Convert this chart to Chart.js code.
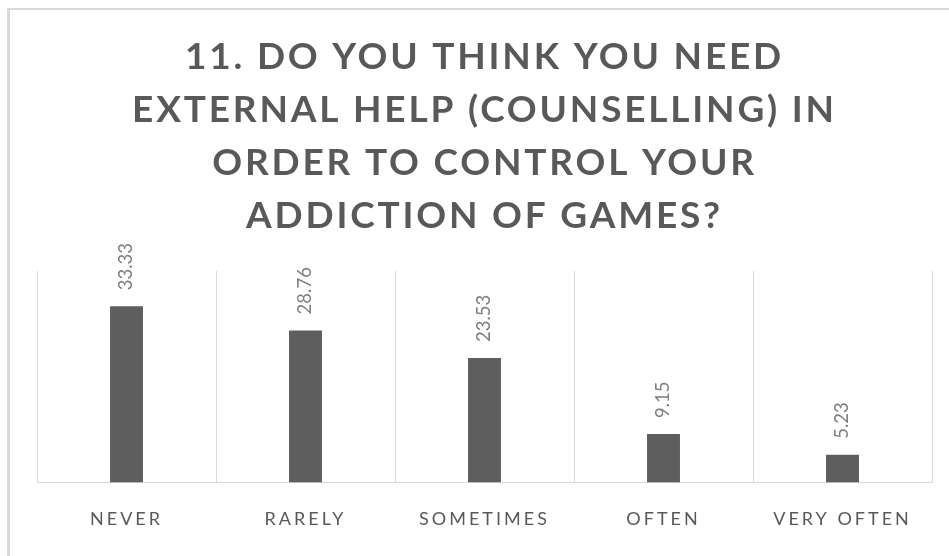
<!DOCTYPE html>
<html>
<head>
<meta charset="utf-8">
<title>Counselling survey</title>
<script src="https://cdn.jsdelivr.net/npm/chart.js@4.4.1/dist/chart.umd.min.js"></script>
<style>
  html, body { margin: 0; padding: 0; background: #ffffff; }
  #wrap { position: relative; width: 949px; height: 556px; overflow: hidden; }
  #frame {
    position: absolute; left: 7px; top: 8px; width: 1000px; height: 600px;
    border-left: 3px solid #d9d9d9; border-top: 2px solid #d9d9d9; box-sizing: border-box;
  }
  #chart { position: absolute; left: 0; top: 0; }
</style>
</head>
<body>
<div id="wrap">
  <div id="frame"></div>
  <canvas id="chart" width="949" height="556"></canvas>
</div>
<script>
// Survey question, answer categories and share of respondents (%)
const titleLines = [
  '11. DO YOU THINK YOU NEED',
  'EXTERNAL HELP (COUNSELLING) IN',
  'ORDER TO CONTROL YOUR',
  'ADDICTION OF GAMES?'
];
const categories = ['NEVER', 'RARELY', 'SOMETIMES', 'OFTEN', 'VERY OFTEN'];
const percentages = [33.33, 28.76, 23.53, 9.15, 5.23];
const valueAxisRange = [0, 40];

const TEXT_DARK = '#595959';
const TEXT_VALUE = '#7f7f7f';
const LINE_GREY = '#d9d9d9';
const BAR_GREY = '#5e5e5e';

const TITLE_SPACING = '2.8px';
const TICK_SPACING = '3px';

// Canvas text has no letter-spacing option in Chart.js, so wrap the
// title and x-axis label drawing to set it on the context.
const letterSpacing = {
  id: 'letterSpacing',
  beforeDraw(chart) {
    const wrap = (obj, method, spacing) => {
      if (!obj || obj['_spaced_' + method]) return;
      const orig = obj[method];
      obj[method] = function (...args) {
        const c = this.ctx || chart.ctx;
        c.save();
        c.letterSpacing = spacing;
        orig.apply(this, args);
        c.restore();
      };
      obj['_spaced_' + method] = true;
    };
    wrap(chart.titleBlock, 'draw', TITLE_SPACING);
    wrap(chart.scales.x, 'drawLabels', TICK_SPACING);
  }
};

// Vertical value labels above each bar
const valueLabels = {
  id: 'valueLabels',
  afterDatasetsDraw(chart) {
    const ctx = chart.ctx;
    const meta = chart.getDatasetMeta(0);
    const values = chart.data.datasets[0].data;
    ctx.save();
    ctx.font = '18.5px Lato';
    ctx.fillStyle = TEXT_VALUE;
    ctx.textAlign = 'left';
    ctx.textBaseline = 'middle';
    meta.data.forEach((bar, i) => {
      ctx.save();
      ctx.translate(bar.x, bar.y - 16);
      ctx.rotate(-Math.PI / 2);
      ctx.fillText(values[i].toFixed(2), 0, 0);
      ctx.restore();
    });
    ctx.restore();
  }
};

function build() {
  new Chart(document.getElementById('chart'), {
    type: 'bar',
    data: {
      labels: categories,
      datasets: [{
        data: percentages,
        backgroundColor: BAR_GREY,
        borderWidth: 0,
        categoryPercentage: 1,
        barPercentage: 0.184
      }]
    },
    options: {
      responsive: false,
      devicePixelRatio: 1,
      animation: false,
      layout: { padding: { top: 27, left: 37, right: 17, bottom: 1 } },
      plugins: {
        legend: { display: false },
        tooltip: { enabled: false },
        title: {
          display: true,
          text: titleLines,
          color: TEXT_DARK,
          font: { family: 'Lato', size: 37, weight: 'bold', lineHeight: 53 / 37 },
          padding: { top: 4, bottom: 28 }
        }
      },
      scales: {
        x: {
          grid: { display: true, color: LINE_GREY, lineWidth: 1, drawTicks: false, offset: true },
          border: { display: true, color: LINE_GREY, width: 1 },
          ticks: {
            color: TEXT_DARK,
            padding: 25.5,
            font: { family: 'Lato', size: 18, lineHeight: 1.2 }
          }
        },
        y: {
          display: false,
          min: valueAxisRange[0],
          max: valueAxisRange[1]
        }
      }
    },
    plugins: [letterSpacing, valueLabels]
  });
}

Promise.all([
  document.fonts.load('bold 37px Lato'),
  document.fonts.load('18px Lato')
]).then(build, build);
</script>
</body>
</html>
